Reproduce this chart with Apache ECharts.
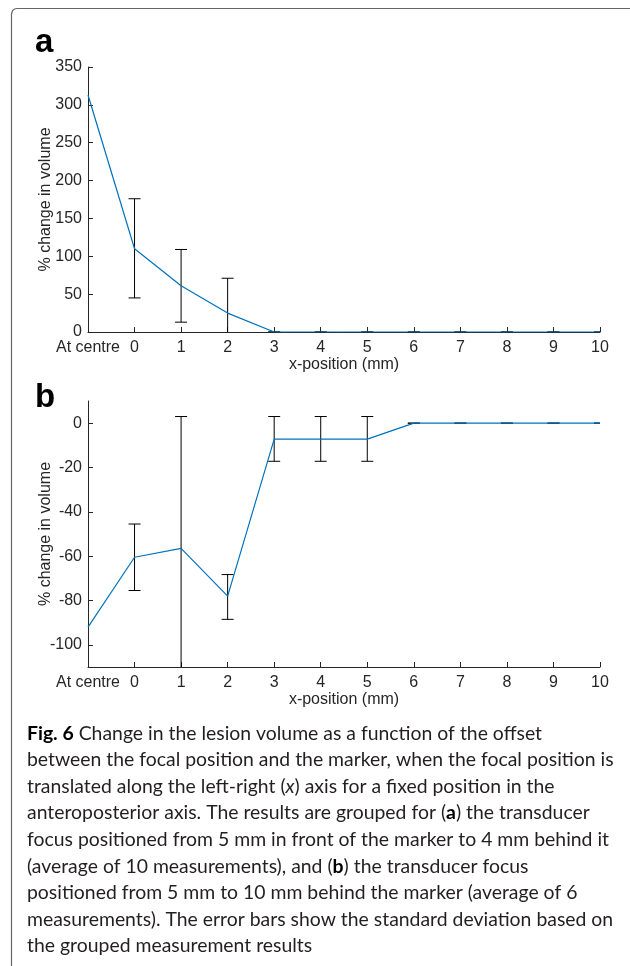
<!DOCTYPE html>
<html>
<head>
<meta charset="utf-8">
<script src="https://cdn.jsdelivr.net/npm/echarts@6/dist/echarts.min.js"></script>
<style>
  html, body { margin: 0; padding: 0; background: #fff; }
  #main { width: 630px; height: 966px; }
</style>
</head>
<body>
<div id="main"></div>
<script>
// x positions: -1 stands for "At centre"
const xPos = [-1, 0, 1, 2, 3, 4, 5, 6, 7, 8, 9, 10];

// panel a (front 5 mm .. behind 4 mm)
const meanA = [313, 110, 61, 25, 0, 0, 0, 0, 0, 0, 0, 0];
const errXA = [0, 1, 2, 3, 4, 5, 6, 7, 8, 9, 10];
const errLowA = [45, 13, -21, 0, 0, 0, 0, 0, 0, 0, 0];
const errHighA = [176, 109, 71, 0, 0, 0, 0, 0, 0, 0, 0];

// panel b (behind 5 mm .. 10 mm)
const meanB = [-92, -60.5, -56.5, -78, -7.2, -7.2, -7.2, 0, 0, 0, 0, 0];
const errXB = [0, 1, 2, 3, 4, 5, 6, 7, 8, 9, 10];
const errLowB = [-75.5, -116, -88.5, -17.2, -17.2, -17.2, 0, 0, 0, 0, 0];
const errHighB = [-45.5, 3, -68.3, 3, 3, 3, 0, 0, 0, 0, 0];

const yTicksB = [-100, -80, -60, -40, -20, 0];

const textColor = '#262626';
const axisFont = 'Liberation Sans, Arial, sans-serif';

const chart = echarts.init(document.getElementById('main'));

const pairs = (xs, ys) => xs.map((x, i) => [x, ys[i]]);
const errData = (xs, lo, hi) => xs.map((x, i) => [x, lo[i], hi[i]]);

const renderErr = (params, api) => {
  const x = api.value(0);
  const lo = api.coord([x, api.value(1)]);
  const hi = api.coord([x, api.value(2)]);
  const half = 6;
  const style = { stroke: '#000', lineWidth: 1 };
  return {
    type: 'group',
    children: [
      { type: 'line', shape: { x1: lo[0], y1: lo[1], x2: hi[0], y2: hi[1] }, style: style },
      { type: 'line', shape: { x1: lo[0] - half, y1: lo[1], x2: lo[0] + half, y2: lo[1] }, style: style },
      { type: 'line', shape: { x1: hi[0] - half, y1: hi[1], x2: hi[0] + half, y2: hi[1] }, style: style }
    ]
  };
};

const xAxisBase = (gridIndex) => ({
  type: 'value',
  gridIndex: gridIndex,
  min: -1,
  max: 10,
  interval: 1,
  name: 'x-position (mm)',
  nameLocation: 'middle',
  nameGap: 25,
  nameMoveOverlap: false,
  nameTextStyle: { color: textColor, fontSize: 16, fontFamily: axisFont },
  axisLine: { onZero: false, lineStyle: { color: '#262626', width: 1 } },
  axisTick: { inside: true, length: 5, lineStyle: { color: '#262626' } },
  axisLabel: {
    color: textColor, fontSize: 16, fontFamily: axisFont, margin: 8,
    formatter: v => (v === -1 ? 'At centre' : String(v))
  },
  splitLine: { show: false }
});

const yAxisBase = (gridIndex) => ({
  type: 'value',
  gridIndex: gridIndex,
  name: '% change in volume',
  nameLocation: 'middle',
  nameGap: 34,
  nameMoveOverlap: false,
  nameTextStyle: { color: textColor, fontSize: 16, fontFamily: axisFont },
  axisLine: { show: true, onZero: false, lineStyle: { color: '#262626', width: 1 } },
  axisTick: { show: true, inside: true, length: 5, lineStyle: { color: '#262626' } },
  axisLabel: { color: textColor, fontSize: 16, fontFamily: axisFont, margin: 6 },
  splitLine: { show: false }
});

const captionText =
  '{b|Fig. 6} Change in the lesion volume as a function of the offset\n' +
  'between the focal position and the marker, when the focal position is\n' +
  'translated along the left-right ({i|x}) axis for a fixed position in the\n' +
  'anteroposterior axis. The results are grouped for ({b|a}) the transducer\n' +
  'focus positioned from 5 mm in front of the marker to 4 mm behind it\n' +
  '(average of 10 measurements), and ({b|b}) the transducer focus\n' +
  'positioned from 5 mm to 10 mm behind the marker (average of 6\n' +
  'measurements). The error bars show the standard deviation based on\n' +
  'the grouped measurement results';

const option = {
  backgroundColor: '#fff',
  animation: false,
  grid: [
    { left: 88, right: 30, top: 67, height: 265 },
    { left: 88, right: 30, top: 401, height: 266 }
  ],
  xAxis: [xAxisBase(0), xAxisBase(1)],
  yAxis: [
    Object.assign(yAxisBase(0), { min: 0, max: 350, interval: 50 }),
    Object.assign(yAxisBase(1), {
      min: -110, max: 10,
      axisTick: { show: true, inside: true, length: 5, lineStyle: { color: '#262626' }, customValues: yTicksB },
      axisLabel: { color: textColor, fontSize: 16, fontFamily: axisFont, margin: 6, customValues: yTicksB }
    })
  ],
  series: [
    {
      type: 'line', xAxisIndex: 0, yAxisIndex: 0,
      data: pairs(xPos, meanA), showSymbol: false, symbol: 'none',
      lineStyle: { color: '#0072BD', width: 1.2 }, z: 3
    },
    {
      type: 'custom', xAxisIndex: 0, yAxisIndex: 0, clip: true,
      data: errData(errXA, errLowA, errHighA), renderItem: renderErr, z: 2
    },
    {
      type: 'line', xAxisIndex: 1, yAxisIndex: 1,
      data: pairs(xPos, meanB), showSymbol: false, symbol: 'none',
      lineStyle: { color: '#0072BD', width: 1.2 }, z: 3
    },
    {
      type: 'custom', xAxisIndex: 1, yAxisIndex: 1, clip: true,
      data: errData(errXB, errLowB, errHighB), renderItem: renderErr, z: 2
    }
  ],
  graphic: [
    {
      type: 'polyline',
      shape: { points: [[11.5, 966], [11.5, 14], [12.5, 10.5], [14.5, 9], [17, 8.5], [630, 8.5]] },
      style: { stroke: '#666', lineWidth: 1.2, fill: null }
    },
    {
      type: 'text', left: 35, top: 26,
      style: { text: 'a', font: 'bold 33px Liberation Sans, Arial, sans-serif', fill: '#000' }
    },
    {
      type: 'text', left: 35, top: 381,
      style: { text: 'b', font: 'bold 33px Liberation Sans, Arial, sans-serif', fill: '#000' }
    },
    {
      type: 'text', left: 27, top: 720,
      style: {
        text: captionText,
        fill: '#231f20',
        fontFamily: 'Lato, sans-serif',
        fontSize: 19.4,
        lineHeight: 26.6,
        rich: {
          b: { fontWeight: 'bold', fontFamily: 'Lato, sans-serif', fontSize: 19.4, lineHeight: 26.6, fill: '#000' },
          i: { fontStyle: 'italic', fontFamily: 'Lato, sans-serif', fontSize: 19.4, lineHeight: 26.6 }
        }
      }
    }
  ]
};

chart.setOption(option);
</script>
</body>
</html>
